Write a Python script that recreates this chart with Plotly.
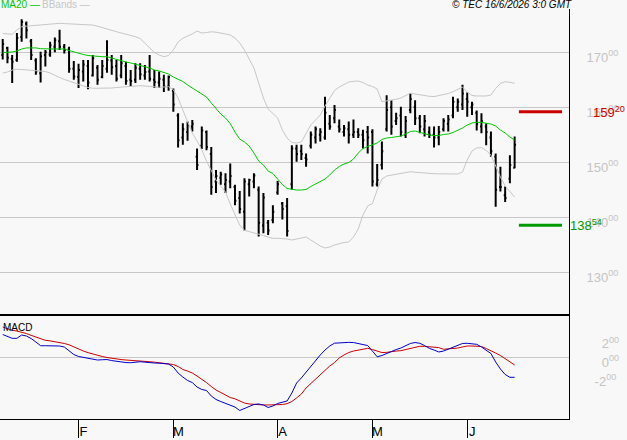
import plotly.graph_objects as go

# ---------------- data ----------------
highs = [172.4, 171.0, 169.5, 173.5, 176.0, 175.6, 172.4, 168.9, 170.1, 170.4,
         171.9, 172.7, 174.1, 171.5, 171.0, 168.4, 167.9, 168.6, 168.6, 169.5,
         167.7, 168.6, 172.2, 169.5, 168.6, 169.5, 168.3, 166.8, 168.0, 168.0,
         167.7, 169.5, 166.8, 166.5, 165.9, 165.8, 163.4, 158.9, 157.1, 157.4,
         157.7, 152.5, 156.5, 155.8, 152.8, 148.6, 148.3, 148.0, 149.8, 145.9,
         144.8, 147.1, 147.0, 148.0, 145.6, 144.4, 139.5, 142.2, 146.6, 142.8,
         143.5, 153.1, 153.2, 153.2, 151.6, 155.6, 156.5, 156.2, 161.9, 158.6,
         160.4, 157.8, 156.8, 157.4, 157.8, 156.2, 155.9, 156.6, 156.0, 149.7,
         153.8, 162.2, 161.3, 159.0, 160.1, 158.4, 162.5, 161.3, 158.6, 158.6,
         156.5, 156.5, 156.6, 158.0, 158.6, 161.9, 161.6, 164.1, 162.7, 161.0,
         159.4, 158.9, 157.1, 155.6, 151.6, 149.2, 145.6, 151.3, 154.7]
lows = [168.7, 168.0, 164.4, 168.3, 171.9, 172.5, 168.6, 165.9, 164.5, 167.4,
        169.2, 170.0, 170.4, 169.8, 166.3, 165.0, 163.5, 164.7, 163.3, 165.6,
        164.1, 165.3, 166.3, 165.9, 164.7, 165.3, 164.1, 163.8, 164.4, 165.0,
        165.0, 164.7, 163.5, 163.5, 162.8, 163.0, 159.2, 152.7, 153.2, 153.9,
        155.6, 148.6, 152.4, 152.2, 144.1, 144.4, 145.9, 144.4, 145.3, 142.2,
        140.7, 137.6, 143.8, 145.3, 136.5, 137.1, 136.8, 138.9, 144.1, 139.6,
        136.5, 145.0, 150.1, 150.4, 149.2, 152.5, 153.4, 153.8, 154.1, 155.9,
        157.1, 155.4, 154.7, 153.4, 154.4, 154.4, 152.5, 151.6, 145.6, 145.6,
        148.7, 155.6, 155.0, 156.8, 154.7, 154.4, 158.9, 156.8, 155.3, 154.7,
        154.4, 152.7, 153.1, 155.6, 155.6, 158.0, 159.2, 159.5, 158.3, 158.6,
        155.8, 155.3, 153.1, 151.0, 141.9, 144.7, 142.8, 146.2, 148.9]
opens = [169.5, 170.8, 168.8, 168.6, 172.8, 175.2, 172.0, 168.5, 166.2, 169.5,
         169.6, 171.0, 172.0, 171.0, 170.5, 167.0, 165.5, 166.5, 167.5, 165.8,
         167.2, 165.5, 167.0, 168.5, 167.5, 165.8, 167.5, 165.0, 165.0, 167.0,
         165.8, 166.5, 165.0, 164.5, 165.0, 163.8, 163.0, 158.5, 154.5, 155.5,
         156.5, 151.0, 153.0, 155.5, 151.5, 146.5, 147.2, 146.0, 146.5, 145.5,
         143.5, 141.0, 146.0, 146.5, 145.0, 138.5, 139.0, 139.5, 144.5, 142.5,
         142.0, 146.0, 152.5, 152.0, 150.8, 153.0, 154.5, 155.0, 154.5, 157.0,
         158.0, 156.5, 155.5, 156.0, 155.0, 155.5, 155.0, 155.5, 155.5, 146.0,
         149.5, 156.0, 160.0, 157.5, 158.5, 155.0, 159.5, 160.0, 158.0, 156.0,
         155.5, 155.0, 154.5, 156.0, 157.0, 158.5, 160.0, 160.5, 161.5, 160.0,
         159.0, 156.5, 156.5, 154.5, 151.0, 145.5, 144.0, 147.0, 149.0]
closes = [171.5, 169.0, 168.3, 172.6, 175.5, 174.0, 169.5, 166.5, 169.3, 170.0,
          171.3, 172.2, 171.0, 170.4, 167.0, 165.6, 166.8, 167.8, 164.5, 168.9,
          165.0, 167.5, 168.6, 167.3, 165.2, 168.0, 164.8, 164.8, 167.2, 166.0,
          166.4, 165.2, 164.6, 165.2, 163.8, 165.5, 160.5, 154.0, 156.0, 156.8,
          157.0, 149.5, 155.8, 152.8, 145.5, 147.5, 147.8, 146.8, 147.5, 143.0,
          141.5, 146.5, 146.8, 147.6, 139.0, 143.6, 137.6, 141.0, 146.0, 141.5,
          137.5, 152.5, 151.5, 151.5, 150.5, 155.0, 156.0, 155.5, 159.0, 156.5,
          159.5, 156.0, 156.2, 155.0, 155.5, 155.0, 154.0, 154.5, 146.5, 146.8,
          152.0, 159.5, 156.5, 158.0, 155.5, 157.5, 161.5, 158.0, 156.5, 157.5,
          155.0, 154.5, 155.5, 157.5, 157.8, 161.0, 161.0, 162.5, 161.0, 160.5,
          157.0, 157.5, 155.5, 152.0, 145.0, 145.5, 143.5, 149.5, 153.2]
ma20 = [169.95, 169.97, 170.06, 170.24, 170.6, 170.8, 170.84, 170.8, 170.66, 170.6,
        170.6, 170.6, 170.6, 170.6, 170.33, 170.06, 169.78, 169.6, 169.42, 169.33,
        169.24, 169.2, 169.2, 168.96, 168.6, 168.42, 168.24, 168.06, 167.87, 167.6,
        167.38, 167.15, 166.78, 166.6, 166.33, 166.06, 165.51, 165.15, 164.69, 164.06,
        163.51, 162.87, 162.33, 161.87, 160.78, 159.69, 158.78, 158.06, 157.06, 155.51,
        154.24, 153.69, 152.96, 151.69, 150.24, 149.51, 148.42, 147.96, 146.96, 145.96,
        145.24, 145.06, 144.96, 144.96, 145.06, 145.6, 146.06, 146.42, 146.96, 147.69,
        148.6, 149.24, 149.69, 149.96, 150.6, 151.69, 152.51, 152.87, 153.15, 153.51,
        154.15, 154.42, 154.51, 154.69, 154.78, 155.15, 155.6, 155.69, 155.42, 155.24,
        154.96, 154.87, 154.87, 155.06, 155.15, 155.42, 155.78, 156.24, 156.78, 157.15,
        157.27, 157.27, 157.09, 156.96, 156.6, 155.87, 155.33, 154.6, 154.06]
bb_upper = [173.42, 173.33, 173.27, 174.06, 174.66, 174.75, 174.82, 174.87, 174.96, 175.06,
            175.15, 175.22, 175.27, 175.22, 175.15, 175.11, 175.07, 175.04, 175.0, 174.96,
            174.78, 174.51, 174.24, 173.96, 173.73, 173.51, 173.29, 173.11, 172.84, 172.51,
            171.69, 170.78, 169.96, 169.51, 169.2, 169.42, 170.42, 171.87, 172.55, 172.96,
            173.33, 173.87, 173.51, 173.6, 173.73, 173.66, 173.55, 173.33, 173.15, 172.6,
            171.69, 170.42, 168.78, 167.15, 164.42, 161.69, 159.69, 158.96, 158.06, 155.87,
            154.42, 153.6, 153.51, 153.69, 155.15, 156.78, 157.69, 158.6, 160.24, 161.69,
            163.06, 163.69, 164.15, 164.6, 164.73, 164.78, 164.51, 164.06, 163.78, 163.33,
            161.02, 161.15, 161.24, 161.46, 161.69, 162.15, 162.55, 162.42, 162.24, 162.11,
            162.0, 161.95, 162.11, 162.24, 162.51, 162.84, 163.33, 163.69, 162.78, 162.15,
            162.06, 162.06, 162.06, 162.24, 163.42, 164.33, 164.66, 164.55, 164.36]
bb_lower = [166.24, 166.42, 166.78, 166.91, 166.87, 166.82, 166.78, 166.69, 166.6, 166.51,
            166.24, 165.78, 165.42, 165.06, 164.78, 164.42, 164.15, 163.87, 163.6, 163.46,
            163.46, 163.46, 163.46, 163.51, 163.6, 163.69, 163.75, 163.78, 163.87, 163.93,
            163.87, 163.78, 163.69, 163.64, 163.69, 163.75, 163.2, 161.7, 159.5, 157.3,
            155.3, 153.87, 152.24, 150.24, 148.42, 146.78, 145.69, 144.6, 142.42, 140.42,
            138.6, 137.64, 137.42, 137.24, 136.96, 136.69, 136.42, 136.18, 136.18, 136.15,
            136.06, 135.87, 136.06, 136.33, 136.42, 135.87, 135.33, 134.78, 134.42, 134.6,
            134.96, 135.24, 135.42, 135.51, 136.42, 137.87, 140.42, 142.06, 142.51, 144.96,
            146.96, 147.51, 147.69, 147.87, 148.02, 148.15, 148.29, 148.2, 148.11, 148.02,
            147.96, 147.93, 147.91, 147.87, 147.87, 147.87, 147.87, 148.24, 150.42, 152.06,
            152.6, 152.69, 152.15, 151.33, 149.33, 147.33, 145.69, 144.6, 143.69]
macd = [2.44, 2.22, 2.03, 2.03, 2.39, 2.28, 2.01, 1.64, 1.24, 1.24,
        1.24, 1.24, 1.21, 1.10, 0.67, 0.30, 0.09, -0.02, -0.13, -0.21,
        -0.29, -0.26, -0.24, -0.35, -0.43, -0.50, -0.56, -0.58, -0.50, -0.47,
        -0.52, -0.59, -0.61, -0.63, -0.66, -0.72, -1.04, -1.68, -2.11, -2.48,
        -2.70, -3.18, -3.44, -3.55, -4.14, -4.51, -4.73, -4.94, -5.10, -5.32,
        -5.69, -5.48, -5.26, -5.05, -4.99, -5.10, -5.37, -5.21, -4.94, -4.78,
        -4.67, -3.82, -2.75, -2.21, -1.57, -0.93, -0.29, 0.25, 0.78, 1.21,
        1.51, 1.56, 1.60, 1.60, 1.58, 1.50, 1.39, 1.26, 0.67, 0.06,
        0.19, 0.41, 0.67, 0.83, 0.99, 1.21, 1.48, 1.58, 1.50, 1.26,
        0.96, 0.78, 0.57, 0.67, 0.89, 1.05, 1.26, 1.48, 1.50, 1.42,
        1.39, 1.10, 0.78, 0.41, -0.50, -1.25, -1.84, -2.14, -2.14]
signal = [3.24, 3.03, 2.89, 2.81, 2.71, 2.55, 2.35, 2.17, 1.98, 1.82,
          1.76, 1.69, 1.60, 1.48, 1.34, 1.10, 0.88, 0.68, 0.50, 0.35,
          0.19, 0.09, -0.02, -0.11, -0.18, -0.24, -0.29, -0.34, -0.40, -0.42,
          -0.44, -0.47, -0.52, -0.58, -0.62, -0.64, -0.77, -0.98, -1.30, -1.47,
          -1.68, -2.00, -2.32, -2.70, -3.12, -3.50, -3.76, -4.03, -4.30, -4.44,
          -4.67, -4.89, -4.99, -5.05, -5.10, -5.10, -5.10, -5.10, -5.10, -5.05,
          -4.96, -4.73, -4.35, -3.93, -3.28, -2.80, -2.43, -1.84, -1.36, -0.93,
          -0.56, -0.07, 0.25, 0.51, 0.67, 0.78, 0.89, 0.96, 0.83, 0.67,
          0.51, 0.53, 0.62, 0.67, 0.71, 0.83, 0.99, 1.10, 1.18, 1.17,
          1.12, 1.09, 1.04, 0.86, 0.89, 0.94, 0.99, 1.10, 1.21, 1.21,
          1.19, 1.16, 0.94, 0.73, 0.46, 0.19, -0.16, -0.50, -0.82]

month_idx = [16, 36, 58, 78, 98]
month_labels = ["F", "M", "A", "M", "J"]
price_ticks = [130, 140, 150, 160, 170]
macd_ticks = [-2, 0, 2]
resistance = 159.20
support = 138.54
stamp = "© TEC 16/6/2026 3:0 GMT"

# ---------------- figure ----------------
W, H = 627, 440
FONT = "Liberation Sans"
GRID = "#c8c8c8"
n = len(closes)
x = list(range(n))

def split_label(v):
    whole = int(abs(v))
    frac = int(round((abs(v) - whole) * 100))
    sign = "-" if v < 0 else ""
    return f"{sign}{whole}<sup>{frac:02d}</sup>"

fig = go.Figure()
fig.add_trace(go.Scatter(x=x, y=bb_upper, mode="lines", line=dict(color="#c6c6c6", width=1),
                         hoverinfo="skip", xaxis="x", yaxis="y"))
fig.add_trace(go.Scatter(x=x, y=bb_lower, mode="lines", line=dict(color="#c6c6c6", width=1),
                         hoverinfo="skip", xaxis="x", yaxis="y"))
fig.add_trace(go.Scatter(x=x, y=ma20, mode="lines", line=dict(color="#00c800", width=1),
                         hoverinfo="skip", xaxis="x", yaxis="y"))
fig.add_trace(go.Ohlc(x=x, open=opens, high=highs, low=lows, close=closes,
                      increasing=dict(line=dict(color="black", width=2)),
                      decreasing=dict(line=dict(color="black", width=2)),
                      tickwidth=0.3, hoverinfo="skip", xaxis="x", yaxis="y"))
# support / resistance levels to the right of the last bar
level_x = [n - 0.1, n + 9.0]
fig.add_trace(go.Scatter(x=level_x, y=[resistance, resistance], mode="lines",
                         line=dict(color="#cc0000", width=3), hoverinfo="skip", xaxis="x", yaxis="y"))
fig.add_trace(go.Scatter(x=level_x, y=[support, support], mode="lines",
                         line=dict(color="#009900", width=3), hoverinfo="skip", xaxis="x", yaxis="y"))
# MACD panel
fig.add_trace(go.Scatter(x=x, y=signal, mode="lines", line=dict(color="#cc0000", width=1),
                         hoverinfo="skip", xaxis="x2", yaxis="y2"))
fig.add_trace(go.Scatter(x=x, y=macd, mode="lines", line=dict(color="#0000cc", width=1),
                         hoverinfo="skip", xaxis="x2", yaxis="y2"))

def py(px):  # pixel row -> paper fraction
    return (H - px) / H

x_range = [-0.57, 119.47]
xdom = [0, 569 / W]
main_top, main_bot = 9.3, 314
macd_top, macd_bot = 316, 419

fig.update_layout(
    template="none",
    width=W, height=H, margin=dict(l=0, r=0, t=0, b=0, autoexpand=False),
    paper_bgcolor="#f8f8f8", plot_bgcolor="#f8f8f8", showlegend=False,
    font=dict(family=FONT, size=12, color="black"),
    xaxis=dict(domain=xdom, range=x_range, anchor="y", showgrid=False, zeroline=False,
               showticklabels=False, ticks="", showline=True, linecolor="black", linewidth=2,
               rangeslider=dict(visible=False), fixedrange=True, automargin=False),
    yaxis=dict(domain=[py(main_bot), py(main_top)], range=[122.42, 177.82], anchor="x",
               side="right", showline=True, linecolor="black", linewidth=1,
               showgrid=True, gridcolor=GRID, gridwidth=1, zeroline=False,
               tickvals=price_ticks, ticktext=[split_label(v) for v in price_ticks],
               tickfont=dict(family=FONT, size=13, color="#c4c4c4"), ticks="",
               ticklabelstandoff=14, ticklabelshift=5, automargin=False),
    xaxis2=dict(domain=xdom, range=x_range, anchor="y2", matches="x", showgrid=False,
                zeroline=False, showline=True, linecolor="black", linewidth=1,
                tickvals=month_idx, ticktext=month_labels, ticks="outside", ticklen=18,
                tickcolor="black", tickwidth=1,
                tickfont=dict(family=FONT, size=13, color="black"),
                ticklabelshift=5, ticklabelstandoff=-18, automargin=False),
    yaxis2=dict(domain=[py(macd_bot), py(macd_top)], range=[-6.60, 4.42], anchor="x2",
                side="right", showline=True, linecolor="black", linewidth=1,
                showgrid=False, zeroline=True, zerolinecolor=GRID, zerolinewidth=1,
                tickvals=macd_ticks,
                ticktext=[("" if v < 0 else "\u2007") + split_label(v) for v in macd_ticks],
                tickfont=dict(family=FONT, size=13, color="#c4c4c4"), ticks="",
                ticklabelstandoff=22, ticklabelshift=5, automargin=False),
)

ann = [
    dict(text="MA20 —", x=0, y=py(4.5), xref="paper", yref="paper", xanchor="left",
         yanchor="middle", showarrow=False, font=dict(family=FONT, size=10, color="#00c800")),
    dict(text="BBands —", x=41 / W, y=py(4.5), xref="paper", yref="paper", xanchor="left",
         yanchor="middle", showarrow=False, font=dict(family=FONT, size=10, color="#c6c6c6")),
    dict(text="<i>" + stamp + "</i>", x=573 / W, y=py(4.5), xref="paper", yref="paper",
         xanchor="right", yanchor="middle", showarrow=False,
         font=dict(family=FONT, size=10, color="black")),
    dict(text="MACD", x=2 / W, y=py(327.5), xref="paper", yref="paper", xanchor="left",
         yanchor="middle", showarrow=False, font=dict(family=FONT, size=10, color="black")),
    dict(text=split_label(resistance), x=592 / W, y=resistance, xref="paper", yref="y",
         xanchor="left", yanchor="middle", showarrow=False,
         font=dict(family=FONT, size=13, color="#cc0000")),
    dict(text=split_label(support), x=569 / W, y=support, xref="paper", yref="y",
         xanchor="left", yanchor="middle", showarrow=False,
         font=dict(family=FONT, size=13, color="#009900")),
]
for a in ann:
    a["borderpad"] = 0
fig.update_layout(annotations=ann)

fig.write_html("out.html", config={"displayModeBar": False})
